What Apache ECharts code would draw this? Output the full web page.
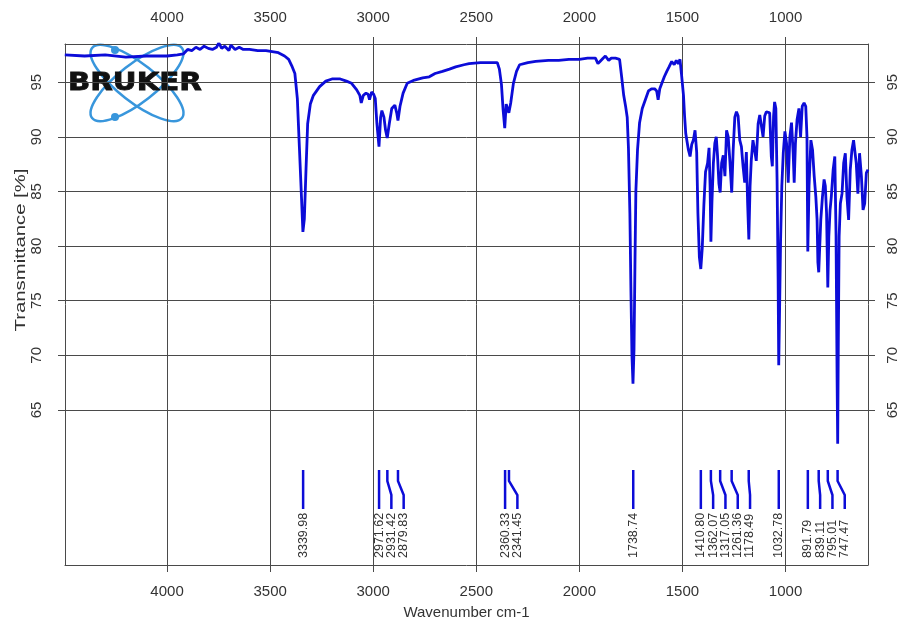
<!DOCTYPE html>
<html>
<head>
<meta charset="utf-8">
<script src="https://cdn.jsdelivr.net/npm/echarts@6/dist/echarts.min.js"></script>
<style>
html,body{margin:0;padding:0;background:#fff;}
#chart{width:901px;height:629px;}
</style>
</head>
<body>
<div id="chart"></div>
<script>
// ---- data ----
const wavenumbers = [
4496,4400,4300,4200,4100,4000,3950,3920,3900,3880,3860,3840,3820,3800,3780,3760,3749,3735,3720,3700,3690,3670,3650,3630,3600,3560,3520,3490,3460,3430,3410,3395,3380,3368,3358,3348,3341,3334,3326,3318,3305,3290,3260,3230,3200,3160,3130,3105,3080,3065,3058,3048,3035,3025,3018,3008,2998,2990,2982,2972,2964,2958,2948,2940,2932,2922,2910,2895,2886,2880,2870,2855,2835,2800,2760,2728,2700,2664,2630,2600,2560,2535,2480,2420,2398,2388,2378,2370,2362,2355,2349,2342,2333,2320,2305,2290,2250,2212,2150,2100,2051,2000,1960,1922,1910,1900,1885,1874,1858,1845,1825,1805,1795,1785,1775,1768,1762,1755,1750,1745,1740,1735,1730,1726,1718,1708,1695,1680,1665,1650,1635,1625,1618,1610,1600,1588,1576,1565,1552,1540,1530,1520,1512,1505,1500,1495,1490,1484,1478,1471,1463,1455,1447,1439,1431,1425,1418,1411,1404,1396,1388,1378,1371,1366,1362,1357,1350,1343,1336,1330,1323,1317,1310,1302,1294,1286,1278,1270,1261,1254,1246,1238,1230,1222,1214,1206,1198,1190,1184,1178,1172,1166,1158,1150,1142,1133,1125,1117,1109,1101,1093,1085,1077,1069,1064,1058,1053,1047,1041,1036,1033,1029,1024,1018,1011,1003,995,987,979,971,963,958,952,944,935,927,919,910,902,896,892,886,877,869,861,853,847,843,839,834,829,821,813,807,801,795,790,784,778,769,761,755,750,747,744,740,734,726,718,710,702,694,686,678,670,663,657,649,641,632,624,616,608,600
];
const transmittance = [
97.5,97.4,97.5,97.3,97.4,97.4,97.5,97.6,98.0,97.9,98.2,98.0,98.3,98.1,98.0,98.2,98.6,98.1,98.3,97.9,98.4,98.0,98.2,98.0,98.0,97.9,97.9,97.8,97.7,97.4,97.1,96.5,95.8,93.5,89.0,84.5,81.3,82.5,87.0,91.2,93.0,93.8,94.6,95.1,95.3,95.3,95.1,94.9,94.3,93.8,93.1,93.8,94.0,93.9,93.4,94.1,93.9,93.5,91.2,89.1,91.8,92.4,91.8,90.6,89.9,91.2,92.6,92.9,92.2,91.5,92.8,94.0,94.9,95.2,95.4,95.5,95.8,96.0,96.2,96.4,96.6,96.7,96.8,96.8,96.8,96.2,94.8,92.5,90.8,93.0,92.6,92.2,93.1,94.9,96.0,96.6,96.8,96.9,97.0,97.0,97.1,97.1,97.2,97.2,96.7,96.9,97.2,97.4,97.0,97.2,97.2,97.1,95.5,93.8,92.7,91.8,89.0,83.0,76.0,70.0,67.4,70.5,79.0,85.0,88.8,91.3,92.6,93.4,94.2,94.4,94.4,94.2,93.4,94.4,94.9,95.5,96.0,96.4,96.9,96.6,97.0,96.7,97.1,95.8,94.8,93.8,92.0,90.3,89.6,88.8,88.2,89.3,89.7,90.6,88.6,83.0,79.0,77.9,79.8,83.8,86.8,87.6,89.0,85.5,80.4,84.0,87.6,89.4,90.0,88.3,85.7,84.9,87.6,88.3,86.4,90.6,90.0,87.8,84.9,88.8,91.8,92.3,91.9,89.7,89.1,87.3,85.8,88.6,84.0,80.6,85.5,87.9,89.7,88.8,87.8,91.2,92.0,91.9,90.0,91.9,92.3,92.2,92.2,88.2,87.3,91.9,93.2,92.6,86.0,77.0,69.1,74.0,80.5,85.5,88.5,90.5,89.4,85.8,90.0,91.3,88.5,85.8,89.4,91.6,92.6,90.0,92.8,93.1,92.8,90.0,79.5,85.5,89.7,88.8,86.4,84.5,82.4,78.5,77.6,80.0,82.4,84.5,86.1,85.5,83.0,76.2,80.9,83.3,84.5,87.0,88.2,81.0,68.0,61.9,71.1,80.9,83.9,84.8,87.6,88.5,84.5,82.4,87.0,88.8,89.7,89.6,87.6,84.8,88.5,86.4,83.3,83.9,86.7,87.0
];
const xTicks = [4000, 3500, 3000, 2500, 2000, 1500, 1000];
const yTicks = [65, 70, 75, 80, 85, 90, 95];
const peaks = [3339.98, 2971.62, 2931.42, 2879.83, 2360.33, 2341.45, 1738.74, 1410.80, 1362.07, 1317.05, 1261.36, 1178.49, 1032.78, 891.79, 839.11, 795.01, 747.47];
const peakLabels = ['3339.98','2971.62','2931.42','2879.83','2360.33','2341.45','1738.74','1410.80','1362.07','1317.05','1261.36','1178.49','1032.78','891.79','839.11','795.01','747.47'];

const X_MIN = 600, X_MAX = 4495, Y_MIN = 50.8, Y_MAX = 98.5;
const LINE_COLOR = '#0c0cd8';
const GRID_COLOR = '#4a4a4a';
const FONT = 'Liberation Sans, Arial, sans-serif';

const spectrum = wavenumbers.map((w, i) => [w, transmittance[i]]);
const plain = v => String(v);

function peakRenderItem(params, api) {
  const cs = params.coordSys;
  const bottom = cs.y + cs.height;
  const spacing = 12.3;
  const px = peaks.map(p => api.coord([p, Y_MIN])[0]);
  const lx = [];
  for (let k = 0; k < px.length; k++) {
    lx.push(k === 0 ? px[k] : Math.max(px[k], lx[k - 1] + spacing));
  }
  const i = params.dataIndex;
  const top = bottom - 95, lineBottom = bottom - 56;
  const pts = lx[i] - px[i] > 0.5
    ? [[px[i], top], [px[i], top + 11], [lx[i], top + 25], [lx[i], lineBottom]]
    : [[px[i], top], [px[i], lineBottom]];
  return {
    type: 'group',
    children: [
      { type: 'polyline', shape: { points: pts },
        style: { stroke: LINE_COLOR, lineWidth: 2.5, fill: null } },
      { type: 'text', x: lx[i], y: bottom - 7, rotation: Math.PI / 2,
        style: { text: peakLabels[i], fill: '#333', font: '12.5px ' + FONT,
                 align: 'left', verticalAlign: 'middle' } }
    ]
  };
}

const chart = echarts.init(document.getElementById('chart'), null, { renderer: 'canvas' });

const commonX = {
  type: 'value', min: X_MIN, max: X_MAX, inverse: true,
  axisLine: { show: true, onZero: false, lineStyle: { color: GRID_COLOR, width: 1 } },
  axisTick: { show: true, inside: false, length: 7, customValues: xTicks, lineStyle: { color: GRID_COLOR } },
  axisLabel: { customValues: xTicks, fontSize: 15, color: '#333', fontFamily: FONT, formatter: plain },
};
const commonY = {
  type: 'value', min: Y_MIN, max: Y_MAX,
  axisLine: { show: true, onZero: false, lineStyle: { color: GRID_COLOR, width: 1 } },
  axisTick: { show: true, inside: false, length: 7, customValues: yTicks, lineStyle: { color: GRID_COLOR } },
  axisLabel: { customValues: yTicks, fontSize: 15, color: '#333', fontFamily: FONT, rotate: 90, formatter: plain },
};

chart.setOption({
  animation: false,
  backgroundColor: '#fff',
  grid: { left: 65, top: 44, width: 803, height: 521, containLabel: false },
  xAxis: [
    Object.assign({}, commonX, { position: 'bottom',
      axisLabel: Object.assign({}, commonX.axisLabel, { margin: 19 }),
      splitLine: { show: true, lineStyle: { color: GRID_COLOR, width: 1 } },
      name: 'Wavenumber cm-1', nameLocation: 'middle', nameGap: 40,
      nameTextStyle: { fontSize: 15, color: '#333', fontFamily: FONT } }),
    Object.assign({}, commonX, { position: 'top',
      axisLabel: Object.assign({}, commonX.axisLabel, { margin: 19 }),
      splitLine: { show: false } })
  ],
  yAxis: [
    Object.assign({}, commonY, { position: 'left',
      axisLabel: Object.assign({}, commonY.axisLabel, { margin: 21 }),
      splitLine: { show: true, lineStyle: { color: GRID_COLOR, width: 1 } } }),
    Object.assign({}, commonY, { position: 'right',
      axisLabel: Object.assign({}, commonY.axisLabel, { margin: 17 }),
      splitLine: { show: false } })
  ],
  graphic: [
    { type: 'text', x: 21, y: 250, rotation: Math.PI / 2, scaleX: 1.45,
      style: { text: 'Transmittance [%]', font: '14px ' + FONT, fill: '#333',
               align: 'center', verticalAlign: 'middle' } },
    // Bruker logo
    { type: 'group', x: 137, y: 83, z: 1, children: [
      { type: 'ellipse', rotation: 38 * Math.PI / 180, shape: { cx: 0, cy: 0, rx: 57, ry: 19 },
        style: { stroke: '#3896dc', lineWidth: 2.5, fill: null } },
      { type: 'ellipse', rotation: -38 * Math.PI / 180, shape: { cx: 0, cy: 0, rx: 57, ry: 19 },
        style: { stroke: '#3896dc', lineWidth: 2.5, fill: null } },
      { type: 'circle', shape: { cx: -22, cy: -33, r: 4 }, style: { fill: '#3896dc' } },
      { type: 'circle', shape: { cx: -22, cy: 34, r: 4 }, style: { fill: '#3896dc' } },
      { type: 'text', x: -69, y: 1, scaleX: 1.22,
        style: { text: 'BRUKER', font: 'bold 24px DejaVu Sans, sans-serif', fill: '#111',
                 stroke: '#111', lineWidth: 0.8,
                 align: 'left', verticalAlign: 'middle' } }
    ] }
  ],
  series: [
    { type: 'line', data: spectrum, xAxisIndex: 0, yAxisIndex: 0,
      showSymbol: false, symbol: 'none', z: 3,
      lineStyle: { color: LINE_COLOR, width: 2.8 } },
    { type: 'custom', data: peaks.map(p => [p]), xAxisIndex: 0, yAxisIndex: 0,
      renderItem: peakRenderItem, encode: { x: 0 }, z: 4, clip: false }
  ]
});
</script>
</body>
</html>
